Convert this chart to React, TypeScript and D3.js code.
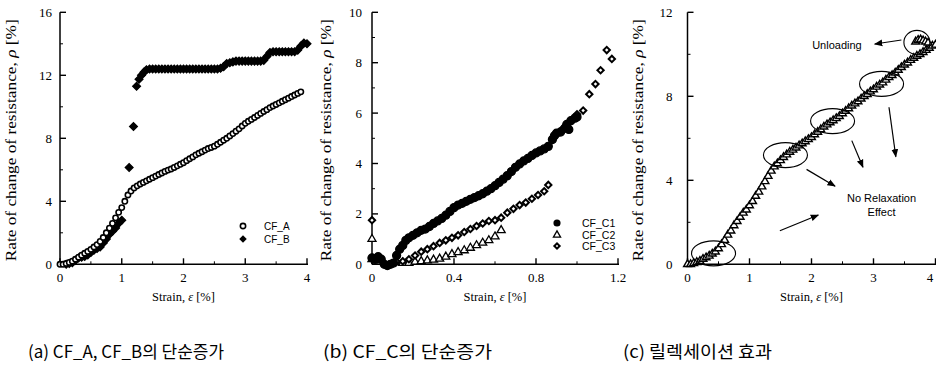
import React from 'react'
import * as d3 from 'd3'

// (a) CF_A, CF_B — strain [%] vs rate of change of resistance [%]
const cfA: [number, number][] = [
  [0, 0], [0.05, 0], [0.1, 0.05], [0.15, 0.12], [0.2, 0.2], [0.25, 0.32], [0.3, 0.45], [0.35, 0.58],
  [0.4, 0.7], [0.45, 0.82], [0.5, 0.95], [0.55, 1.1], [0.6, 1.25], [0.65, 1.45], [0.7, 1.7], [0.75, 2.0],
  [0.8, 2.3], [0.85, 2.6], [0.9, 2.95], [0.95, 3.3], [1.0, 3.6], [1.05, 4.0], [1.1, 4.4], [1.15, 4.65],
  [1.2, 4.85], [1.25, 4.98], [1.3, 5.1], [1.35, 5.2], [1.4, 5.3], [1.45, 5.4], [1.5, 5.5], [1.55, 5.6],
  [1.6, 5.7], [1.65, 5.8], [1.7, 5.9], [1.75, 5.98], [1.8, 6.05], [1.85, 6.15], [1.9, 6.25], [1.95, 6.35],
  [2.0, 6.45], [2.05, 6.58], [2.1, 6.7], [2.15, 6.82], [2.2, 6.95], [2.25, 7.05], [2.3, 7.15], [2.35, 7.25],
  [2.4, 7.35], [2.45, 7.42], [2.5, 7.5], [2.55, 7.62], [2.6, 7.75], [2.65, 7.88], [2.7, 8.0], [2.75, 8.15],
  [2.8, 8.3], [2.85, 8.45], [2.9, 8.6], [2.95, 8.78], [3.0, 8.95], [3.05, 9.08], [3.1, 9.2], [3.15, 9.32],
  [3.2, 9.45], [3.25, 9.58], [3.3, 9.7], [3.35, 9.82], [3.4, 9.95], [3.45, 10.05], [3.5, 10.15], [3.55, 10.25],
  [3.6, 10.35], [3.65, 10.45], [3.7, 10.55], [3.75, 10.65], [3.8, 10.75], [3.85, 10.85], [3.9, 10.95]
]
const cfB: [number, number][] = [
  [0.1, 0], [0.15, 0.05], [0.2, 0.1], [0.25, 0.25], [0.3, 0.4], [0.35, 0.45], [0.4, 0.5], [0.45, 0.6],
  [0.5, 0.75], [0.55, 0.9], [0.6, 1.0], [0.65, 1.1], [0.7, 1.35], [0.75, 1.6], [0.8, 1.9], [0.85, 2.1],
  [0.9, 2.3], [0.95, 2.6], [1.0, 2.8], [1.12, 6.15], [1.19, 8.75], [1.24, 11.3], [1.28, 11.75], [1.32, 12.0],
  [1.36, 12.2], [1.4, 12.35], [1.45, 12.4], [1.5, 12.4], [1.55, 12.4], [1.6, 12.4], [1.65, 12.4], [1.7, 12.4],
  [1.75, 12.4], [1.8, 12.4], [1.85, 12.4], [1.9, 12.4], [1.95, 12.4], [2.0, 12.4], [2.05, 12.4], [2.1, 12.4],
  [2.15, 12.4], [2.2, 12.4], [2.25, 12.4], [2.3, 12.4], [2.35, 12.4], [2.4, 12.4], [2.45, 12.4], [2.5, 12.4],
  [2.55, 12.4], [2.6, 12.45], [2.65, 12.55], [2.7, 12.75], [2.75, 12.8], [2.8, 12.85], [2.85, 12.9], [2.9, 12.9],
  [2.95, 12.9], [3.0, 12.9], [3.05, 12.9], [3.1, 12.9], [3.15, 12.9], [3.2, 12.9], [3.25, 12.9], [3.3, 12.95],
  [3.35, 13.2], [3.4, 13.45], [3.45, 13.5], [3.5, 13.5], [3.55, 13.5], [3.6, 13.5], [3.65, 13.5], [3.7, 13.5],
  [3.75, 13.5], [3.8, 13.5], [3.85, 13.6], [3.9, 13.85], [3.95, 14.05], [4.0, 14.0]
]

// (b) CF_C1, CF_C2, CF_C3
const cfC1: [number, number][] = [
  [0, 0.25], [0.015, 0.2], [0.03, 0.3], [0.045, 0.2], [0.06, 0.0], [0.075, -0.05], [0.09, 0.0], [0.105, 0.05],
  [0.12, 0.35], [0.135, 0.6], [0.15, 0.75], [0.165, 0.95], [0.18, 1.05], [0.2, 1.15], [0.22, 1.25], [0.24, 1.35],
  [0.26, 1.4], [0.28, 1.5], [0.3, 1.62], [0.32, 1.72], [0.34, 1.82], [0.36, 1.95], [0.38, 2.1], [0.4, 2.25],
  [0.42, 2.35], [0.44, 2.42], [0.46, 2.5], [0.48, 2.58], [0.5, 2.65], [0.52, 2.72], [0.54, 2.8], [0.56, 2.9],
  [0.58, 3.0], [0.6, 3.12], [0.62, 3.25], [0.64, 3.38], [0.66, 3.52], [0.68, 3.68], [0.7, 3.85], [0.72, 3.98],
  [0.74, 4.1], [0.76, 4.2], [0.78, 4.32], [0.8, 4.42], [0.82, 4.5], [0.84, 4.58], [0.86, 4.68], [0.88, 4.95],
  [0.89, 5.1], [0.9, 5.2], [0.92, 5.25], [0.94, 5.4], [0.95, 5.55], [0.96, 5.35], [0.97, 5.7], [0.99, 5.8], [1.0, 5.85]
]
const cfC2: [number, number][] = [
  [0, 1.0], [0, 0.2], [0.02, 0.15], [0.15, 0.05], [0.18, 0.05], [0.21, 0.1], [0.24, 0.12], [0.27, 0.15],
  [0.3, 0.18], [0.33, 0.22], [0.36, 0.3], [0.39, 0.4], [0.42, 0.48], [0.45, 0.55], [0.48, 0.65], [0.51, 0.75],
  [0.54, 0.85], [0.57, 0.95], [0.6, 1.1], [0.63, 1.35]
]
const cfC3: [number, number][] = [
  [0, 1.75], [0, 0.25], [0.12, 0.1], [0.15, 0.12], [0.18, 0.2], [0.21, 0.35], [0.24, 0.5], [0.27, 0.6],
  [0.3, 0.72], [0.33, 0.85], [0.36, 0.95], [0.39, 1.05], [0.42, 1.15], [0.45, 1.28], [0.48, 1.4], [0.51, 1.52],
  [0.54, 1.62], [0.57, 1.72], [0.6, 1.75], [0.63, 1.85], [0.66, 2.05], [0.69, 2.2], [0.72, 2.35], [0.75, 2.45],
  [0.78, 2.6], [0.81, 2.75], [0.84, 2.9], [0.86, 3.15], [0.92, 5.3], [0.95, 5.5], [0.98, 5.75], [1.0, 5.95],
  [1.03, 6.1], [1.06, 6.75], [1.09, 7.15], [1.115, 7.7], [1.145, 8.5], [1.17, 8.15]
]

// (c) relaxation test
const relax: [number, number][] = [
  [0, 0], [0.05, 0], [0.1, 0.05], [0.15, 0.1], [0.2, 0.15], [0.25, 0.25], [0.3, 0.32], [0.35, 0.4],
  [0.4, 0.5], [0.45, 0.6], [0.5, 0.75], [0.55, 0.95], [0.6, 1.15], [0.65, 1.4], [0.7, 1.6], [0.75, 1.85],
  [0.8, 2.05], [0.85, 2.25], [0.9, 2.45], [0.95, 2.6], [1.0, 2.8], [1.05, 3.0], [1.1, 3.25], [1.15, 3.45],
  [1.2, 3.7], [1.25, 3.95], [1.3, 4.2], [1.35, 4.45], [1.4, 4.65], [1.45, 4.8], [1.5, 4.95], [1.55, 5.1],
  [1.6, 5.22], [1.65, 5.35], [1.7, 5.45], [1.75, 5.55], [1.8, 5.65], [1.85, 5.75], [1.9, 5.85], [1.95, 5.95],
  [2.0, 6.05], [2.05, 6.18], [2.1, 6.3], [2.15, 6.42], [2.2, 6.55], [2.25, 6.65], [2.3, 6.75], [2.35, 6.85],
  [2.4, 6.95], [2.45, 7.05], [2.5, 7.18], [2.55, 7.3], [2.6, 7.42], [2.65, 7.55], [2.7, 7.65], [2.75, 7.75],
  [2.8, 7.88], [2.85, 8.0], [2.9, 8.1], [2.95, 8.22], [3.0, 8.32], [3.05, 8.45], [3.1, 8.55], [3.15, 8.65],
  [3.2, 8.78], [3.25, 8.9], [3.3, 9.0], [3.35, 9.12], [3.4, 9.25], [3.45, 9.38], [3.5, 9.5], [3.55, 9.6],
  [3.6, 9.72], [3.65, 9.82], [3.7, 9.92], [3.75, 10.0], [3.8, 10.1], [3.85, 10.2], [3.9, 10.3], [3.95, 10.4],
  [4.0, 10.45], [3.68, 10.6], [3.72, 10.68], [3.76, 10.7], [3.8, 10.65], [3.84, 10.6], [3.88, 10.55]
]
// circled regions (centre in data units) and arrows for the annotations
const relaxCircles: [number, number, number, number][] = [
  [0.42, 0.52, 22, 12.5], [1.58, 5.2, 22, 12.5], [2.34, 6.82, 22, 12.5], [3.13, 8.59, 22, 12.5], [3.7, 10.57, 13, 12]
]
const relaxArrows: [number, number, number, number][] = [
  [1.92, 4.52, 2.38, 3.72], [1.49, 1.6, 2.11, 2.35], [2.65, 5.89, 2.83, 4.62], [3.25, 7.48, 3.36, 5.12], [3.45, 10.68, 3.02, 10.49]
]

const SERIF = '"Liberation Serif", "Times New Roman", serif'
const SANS = '"Liberation Sans", Arial, sans-serif'

type Marker = 'circle' | 'dot' | 'diamond' | 'odiamond' | 'triangle'

function markerPath(kind: Marker, size: number) {
  const t = kind === 'triangle' ? d3.symbolTriangle : kind.includes('diamond') ? d3.symbolSquare : d3.symbolCircle
  return d3.symbol().type(t).size(size)() as string
}

function Marks({data, x, y, kind, size, sw = 1.3}: any) {
  const p = markerPath(kind, size)
  const filled = kind === 'dot' || kind === 'diamond'
  const rot = kind.includes('diamond') ? ' rotate(45)' : ''
  return (
    <g>
      {data.map((d: [number, number], i: number) => (
        <path key={i} d={p} transform={`translate(${x(d[0])},${y(d[1])})${rot}`}
          fill={filled ? '#000' : '#fff'} stroke="#000" strokeWidth={sw} />
      ))}
    </g>
  )
}

function Axes({x, y, xTicks, xMinor, yTicks, yMinor, labelGap, ylabX, xlabY}: any) {
  const [x0, x1] = x.range()
  const [y0, y1] = y.range()
  return (
    <g fontFamily={SERIF} fill="#000">
      <line x1={x0} x2={x1 + 1} y1={y0} y2={y0} stroke="#000" strokeWidth={1.5} />
      <line x1={x0} x2={x0} y1={y0} y2={y1} stroke="#000" strokeWidth={1.5} />
      {xTicks.map((t: number) => {
        const px = Math.min(x(t), 930)
        return (
          <g key={'x' + t}>
            <line x1={x(t)} x2={x(t)} y1={y0} y2={y0 - 6} stroke="#000" strokeWidth={1.4} />
            <text x={px} y={y0 + 18} textAnchor="middle" fontSize={13}>{String(t)}</text>
          </g>
        )
      })}
      {xMinor.map((t: number) => (
        <line key={'xm' + t} x1={x(t)} x2={x(t)} y1={y0} y2={y0 - 3} stroke="#000" strokeWidth={1} />
      ))}
      {yTicks.map((t: number) => (
        <g key={'y' + t}>
          <line x1={x0} x2={x0 + 6} y1={y(t)} y2={y(t)} stroke="#000" strokeWidth={1.4} />
          <text x={x0 - labelGap} y={y(t) + 4.5} textAnchor="end" fontSize={13}>{t}</text>
        </g>
      ))}
      {yMinor.map((t: number) => (
        <line key={'ym' + t} x1={x0} x2={x0 + 3} y1={y(t)} y2={y(t)} stroke="#000" strokeWidth={1} />
      ))}
      <text x={(x0 + x1) / 2} y={xlabY} textAnchor="middle" fontSize={12.5}>
        Strain, <tspan fontStyle="italic">ε</tspan> [%]
      </text>
      <text transform={`translate(${ylabX},${(y0 + y1) / 2 + 2}) rotate(-90)`} textAnchor="middle" fontSize={15}
        textLength={242} lengthAdjust="spacingAndGlyphs">
        Rate of change of resistance, <tspan fontStyle="italic">ρ</tspan> [%]
      </text>
    </g>
  )
}

export default function App() {
  const top = 12.3
  const bottom = 264.3

  const xA = d3.scaleLinear().domain([0, 4]).range([60, 307])
  const yA = d3.scaleLinear().domain([0, 16]).range([bottom, top])
  const xB = d3.scaleLinear().domain([0, 1.2]).range([372, 618])
  const yB = d3.scaleLinear().domain([0, 10]).range([bottom, top])
  const xC = d3.scaleLinear().domain([0, 4]).range([687.5, 935.5])
  const yC = d3.scaleLinear().domain([0, 12]).range([bottom, top])

  return (
    <svg width={936} height={376} style={{position: 'absolute', left: 0, top: 0, background: '#fff'}}>
      <defs>
        <marker id="ah" viewBox="0 0 10 10" refX="9" refY="5" markerWidth="7" markerHeight="7" orient="auto">
          <path d="M0,1 L10,5 L0,9 z" fill="#000" />
        </marker>
      </defs>

      {/* (a) */}
      <Axes x={xA} y={yA} xTicks={[0, 1, 2, 3, 4]} xMinor={[0.5, 1.5, 2.5, 3.5]}
        yTicks={[0, 4, 8, 12, 16]} yMinor={[2, 6, 10, 14]} labelGap={8} ylabX={16} xlabY={301} />
      <Marks data={cfB} x={xA} y={yA} kind="diamond" size={30} />
      <Marks data={cfA} x={xA} y={yA} kind="circle" size={22} sw={1.6} />
      <g fontFamily={SANS} fontSize={10}>
        <path d={markerPath('circle', 22)} transform="translate(243,226)" fill="#fff" stroke="#000" strokeWidth={1.6} />
        <path d={markerPath('diamond', 28)} transform="translate(243,239) rotate(45)" fill="#000" />
        <text x={264} y={229.5}>CF_A</text>
        <text x={264} y={242.5}>CF_B</text>
      </g>

      {/* (b) */}
      <Axes x={xB} y={yB} xTicks={[0, 0.4, 0.8, 1.2]} xMinor={[0.2, 0.6, 1.0]}
        yTicks={[0, 2, 4, 6, 8, 10]} yMinor={[1, 3, 5, 7, 9]} labelGap={10} ylabX={331} xlabY={301} />
      <Marks data={cfC2} x={xB} y={yB} kind="triangle" size={28} />
      <Marks data={cfC3} x={xB} y={yB} kind="odiamond" size={20} sw={2} />
      <Marks data={cfC1} x={xB} y={yB} kind="dot" size={50} />
      <g fontFamily={SANS} fontSize={10.5}>
        <path d={markerPath('dot', 40)} transform="translate(557,223)" fill="#000" />
        <path d={markerPath('triangle', 22)} transform="translate(557,235)" fill="#fff" stroke="#000" strokeWidth={1.3} />
        <path d={markerPath('odiamond', 14)} transform="translate(557,246) rotate(45)" fill="#fff" stroke="#000" strokeWidth={2} />
        <text x={582} y={226.5}>CF_C1</text>
        <text x={582} y={238.5}>CF_C2</text>
        <text x={582} y={250}>CF_C3</text>
      </g>

      {/* (c) */}
      <Axes x={xC} y={yC} xTicks={[0, 1, 2, 3, 4]} xMinor={[0.5, 1.5, 2.5, 3.5]}
        yTicks={[0, 4, 8, 12]} yMinor={[2, 6, 10]} labelGap={15} ylabX={643} xlabY={301} />
      <Marks data={relax} x={xC} y={yC} kind="triangle" size={26} sw={1.4} />
      {relaxCircles.map((c, i) => (
        <ellipse key={i} cx={xC(c[0])} cy={yC(c[1])} rx={c[2]} ry={c[3]} fill="none" stroke="#000" strokeWidth={1.1} />
      ))}
      {relaxArrows.map((a, i) => (
        <line key={i} x1={xC(a[0])} y1={yC(a[1])} x2={xC(a[2])} y2={yC(a[3])} stroke="#000" strokeWidth={1.2} markerEnd="url(#ah)" />
      ))}
      <g fontFamily={SANS} fontSize={11} textAnchor="middle">
        <text x={xC(2.41)} y={yC(10.44) + 4}>Unloading</text>
        <text x={xC(3.13)} y={yC(3.14) + 4}>No Relaxation</text>
        <text x={xC(3.13)} y={yC(2.49) + 4}>Effect</text>
      </g>

      {/* captions */}
      <g fontFamily={'"Noto Sans CJK KR", "Liberation Sans", sans-serif'} fontSize={17}>
        <text x={28} y={358} textLength={196} lengthAdjust="spacingAndGlyphs">(a) CF_A, CF_B의 단순증가</text>
        <text x={323} y={358} textLength={169} lengthAdjust="spacingAndGlyphs">(b) CF_C의 단순증가</text>
        <text x={623} y={358} textLength={149} lengthAdjust="spacingAndGlyphs">(c) 릴렉세이션 효과</text>
      </g>
    </svg>
  )
}
